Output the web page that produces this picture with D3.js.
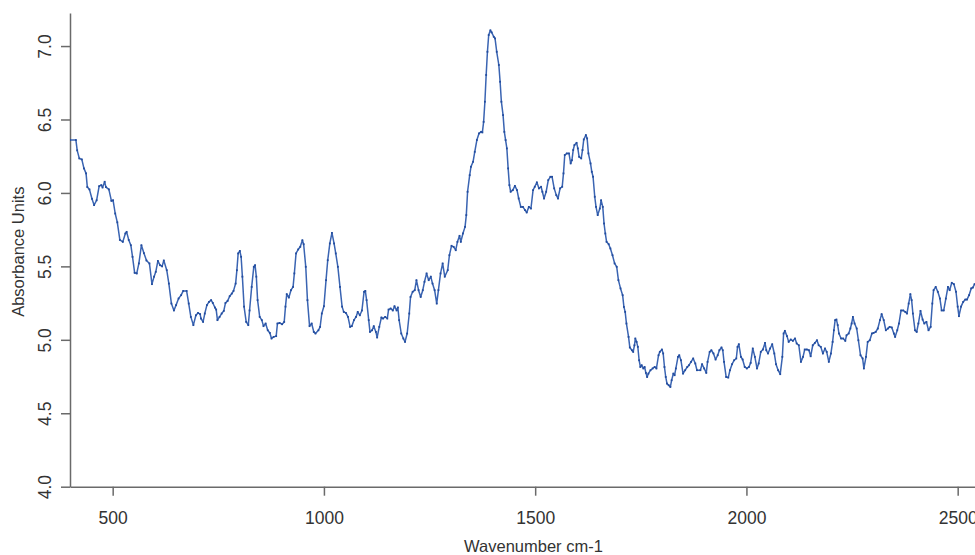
<!DOCTYPE html>
<html>
<head>
<meta charset="utf-8">
<script src="https://cdn.jsdelivr.net/npm/d3@7"></script>
<style>
  body { margin: 0; background: #fff; }
  text { font-family: "Liberation Sans", Arial, sans-serif; fill: #333; }
</style>
</head>
<body>
<div id="chart"></div>
<script>
// spectrum
var wavenumber = [
  399, 413, 416, 421, 427, 432, 437, 440, 445, 451, 456, 462, 468, 473, 476, 481, 484, 491, 497, 501,
  506, 511, 517, 524, 530, 533, 538, 543, 547, 552, 557, 562, 568, 574, 580, 587, 593, 598, 602, 607,
  612, 617, 621, 628, 633, 639, 645, 650, 656, 662, 667, 675, 680, 685, 691, 697, 702, 707, 709, 714,
  718, 723, 728, 733, 737, 742, 745, 748, 753, 758, 763, 767, 772, 777, 782, 786, 791, 794, 797, 801,
  804, 807, 811, 816, 821, 824, 829, 834, 837, 840, 843, 848, 853, 857, 862, 867, 872, 876, 881, 887,
  890, 895, 901, 906, 909, 912, 917, 922, 927, 930, 934, 939, 944, 949, 952, 957, 961, 966, 971, 976,
  980, 987, 991, 995, 1000, 1005, 1009, 1014, 1019, 1024, 1028, 1033, 1038, 1043, 1047, 1052, 1057, 1062, 1066, 1071,
  1076, 1080, 1085, 1090, 1095, 1098, 1101, 1106, 1109, 1114, 1118, 1123, 1126, 1131, 1136, 1140, 1145, 1150, 1153, 1158,
  1163, 1167, 1172, 1175, 1178, 1183, 1188, 1192, 1197, 1202, 1205, 1210, 1215, 1219, 1224, 1229, 1234, 1238, 1243, 1248,
  1253, 1257, 1262, 1267, 1271, 1276, 1281, 1286, 1293, 1297, 1302, 1307, 1312, 1316, 1321, 1324, 1329, 1334, 1337, 1340,
  1345, 1348, 1353, 1357, 1362, 1367, 1372, 1375, 1378, 1381, 1384, 1387, 1390, 1394, 1397, 1402, 1405, 1409, 1414, 1417,
  1420, 1424, 1427, 1430, 1433, 1436, 1439, 1442, 1447, 1452, 1457, 1461, 1466, 1471, 1476, 1480, 1485, 1490, 1495, 1499,
  1504, 1509, 1514, 1517, 1521, 1526, 1531, 1536, 1540, 1545, 1550, 1554, 1559, 1564, 1567, 1570, 1575, 1580, 1584, 1587,
  1590, 1593, 1598, 1601, 1604, 1609, 1612, 1615, 1620, 1623, 1626, 1631, 1634, 1637, 1641, 1644, 1648, 1653, 1656, 1660,
  1663, 1666, 1669, 1674, 1678, 1683, 1688, 1693, 1697, 1702, 1707, 1710, 1713, 1716, 1721, 1724, 1729, 1732, 1735, 1737,
  1740, 1743, 1746, 1749, 1752, 1756, 1759, 1762, 1765, 1768, 1773, 1778, 1783, 1787, 1792, 1795, 1800, 1803, 1806, 1809,
  1812, 1816, 1820, 1823, 1827, 1830, 1833, 1838, 1841, 1845, 1850, 1855, 1860, 1864, 1869, 1874, 1879, 1883, 1891, 1895,
  1900, 1905, 1908, 1913, 1917, 1922, 1927, 1932, 1936, 1941, 1944, 1947, 1952, 1957, 1961, 1966, 1971, 1976, 1979, 1982,
  1987, 1991, 1996, 2001, 2006, 2010, 2015, 2020, 2025, 2029, 2034, 2039, 2044, 2047, 2051, 2056, 2061, 2066, 2070, 2075,
  2080, 2085, 2088, 2091, 2096, 2100, 2105, 2110, 2115, 2119, 2124, 2129, 2134, 2138, 2143, 2148, 2152, 2157, 2162, 2167,
  2171, 2176, 2181, 2186, 2190, 2195, 2200, 2204, 2207, 2210, 2213, 2216, 2219, 2224, 2229, 2234, 2237, 2242, 2246, 2249,
  2252, 2256, 2261, 2265, 2270, 2275, 2278, 2283, 2287, 2292, 2297, 2301, 2306, 2311, 2316, 2320, 2325, 2330, 2335, 2339,
  2344, 2349, 2352, 2357, 2361, 2366, 2371, 2376, 2380, 2384, 2388, 2391, 2394, 2399, 2403, 2407, 2412, 2417, 2421, 2426,
  2431, 2436, 2440, 2443, 2448, 2453, 2458, 2462, 2467, 2472, 2477, 2481, 2486, 2491, 2496, 2500, 2503, 2508, 2513, 2518,
  2522, 2527, 2532, 2536, 2540, 2545
];
var absorbance = [
  6.36, 6.36, 6.29, 6.235, 6.228, 6.167, 6.133, 6.04, 6.024, 5.96, 5.917, 5.95, 6.046, 6.053, 6.037, 6.076, 6.04, 6.024, 5.946, 5.95,
  5.86, 5.80, 5.68, 5.667, 5.724, 5.735, 5.68, 5.644, 5.565, 5.456, 5.452, 5.52, 5.644, 5.59, 5.54, 5.52, 5.379, 5.43, 5.463, 5.537,
  5.508, 5.50, 5.54, 5.474, 5.383, 5.247, 5.20, 5.236, 5.281, 5.304, 5.333, 5.333, 5.247, 5.156, 5.10, 5.167, 5.183, 5.175, 5.145, 5.122,
  5.179, 5.236, 5.258, 5.27, 5.251, 5.22, 5.206, 5.134, 5.156, 5.179, 5.197, 5.251, 5.265, 5.297, 5.315, 5.333, 5.383, 5.474, 5.588, 5.605,
  5.565, 5.43, 5.226, 5.122, 5.10, 5.20, 5.36, 5.497, 5.508, 5.43, 5.27, 5.156, 5.134, 5.093, 5.111, 5.065, 5.047, 5.009, 5.02, 5.025,
  5.111, 5.115, 5.106, 5.122, 5.226, 5.311, 5.288, 5.338, 5.36, 5.452, 5.588, 5.615, 5.633, 5.678, 5.651, 5.497, 5.27, 5.093, 5.111, 5.054,
  5.043, 5.065, 5.088, 5.179, 5.229, 5.406, 5.542, 5.656, 5.728, 5.656, 5.588, 5.497, 5.36, 5.226, 5.19, 5.183, 5.156, 5.088, 5.093, 5.134,
  5.156, 5.19, 5.167, 5.20, 5.327, 5.333, 5.27, 5.134, 5.054, 5.065, 5.093, 5.054, 5.016, 5.088, 5.152, 5.145, 5.156, 5.145, 5.206, 5.213,
  5.20, 5.229, 5.20, 5.22, 5.134, 5.043, 5.009, 4.986, 5.043, 5.179, 5.292, 5.327, 5.338, 5.406, 5.338, 5.292, 5.338, 5.395, 5.452, 5.406,
  5.43, 5.383, 5.338, 5.247, 5.338, 5.452, 5.52, 5.43, 5.474, 5.576, 5.64, 5.633, 5.61, 5.667, 5.708, 5.667, 5.724, 5.769, 5.849, 6.008,
  6.121, 6.178, 6.212, 6.28, 6.36, 6.405, 6.416, 6.412, 6.484, 6.621, 6.803, 6.961, 7.075, 7.107, 7.093, 7.063, 7.052, 6.961, 6.871, 6.757,
  6.621, 6.53, 6.416, 6.36, 6.303, 6.167, 6.053, 6.008, 6.019, 6.048, 6.019, 5.962, 5.905, 5.905, 5.883, 5.867, 5.905, 5.894, 6.019, 6.042,
  6.072, 6.031, 6.042, 6.008, 5.962, 6.008, 6.087, 6.11, 6.11, 6.031, 5.985, 5.962, 6.031, 6.042, 6.133, 6.258, 6.269, 6.269, 6.201, 6.223,
  6.292, 6.326, 6.341, 6.303, 6.246, 6.235, 6.292, 6.364, 6.394, 6.371, 6.269, 6.201, 6.144, 6.11, 5.974, 5.905, 5.849, 5.894, 5.95, 5.905,
  5.792, 5.724, 5.667, 5.651, 5.622, 5.576, 5.52, 5.497, 5.406, 5.35, 5.304, 5.224, 5.19, 5.111, 5.02, 4.948, 4.929, 4.918, 4.963, 5.009,
  4.986, 4.952, 4.861, 4.815, 4.827, 4.805, 4.815, 4.775, 4.747, 4.77, 4.793, 4.805, 4.815, 4.805, 4.895, 4.918, 4.934, 4.907, 4.815, 4.747,
  4.702, 4.691, 4.679, 4.725, 4.77, 4.759, 4.805, 4.884, 4.895, 4.861, 4.77, 4.793, 4.815, 4.827, 4.85, 4.873, 4.839, 4.793, 4.793, 4.834,
  4.805, 4.775, 4.85, 4.918, 4.929, 4.907, 4.866, 4.895, 4.929, 4.948, 4.929, 4.85, 4.747, 4.743, 4.793, 4.834, 4.861, 4.873, 4.952, 4.97,
  4.884, 4.866, 4.815, 4.805, 4.815, 4.843, 4.941, 4.884, 4.805, 4.839, 4.918, 4.934, 4.979, 4.929, 4.907, 4.941, 4.97, 4.907, 4.834, 4.793,
  4.766, 4.884, 5.043, 5.061, 5.025, 4.986, 5.002, 4.993, 5.009, 4.975, 4.963, 4.85, 4.884, 4.934, 4.934, 4.929, 4.888, 4.963, 4.979, 4.997,
  4.963, 4.952, 4.907, 4.941, 4.918, 4.85, 4.907, 4.986, 5.065, 5.134, 5.138, 5.10, 5.043, 5.009, 5.009, 4.993, 5.031, 5.043, 5.077, 5.111,
  5.156, 5.111, 5.077, 4.997, 4.895, 4.873, 4.805, 4.884, 4.986, 4.997, 5.043, 5.047, 5.054, 5.077, 5.134, 5.175, 5.134, 5.065, 5.077, 5.088,
  5.084, 5.043, 5.02, 5.065, 5.111, 5.20, 5.20, 5.19, 5.179, 5.247, 5.311, 5.27, 5.179, 5.065, 5.054, 5.111, 5.197, 5.138, 5.111, 5.122,
  5.065, 5.088, 5.247, 5.338, 5.36, 5.327, 5.281, 5.20, 5.20, 5.281, 5.36, 5.338, 5.388, 5.379, 5.327, 5.226, 5.161, 5.226, 5.258, 5.274,
  5.274, 5.304, 5.35, 5.356, 5.379, 5.38
];
var xTicks = [500, 1000, 1500, 2000, 2500];
var yTicks = [4.0, 4.5, 5.0, 5.5, 6.0, 6.5, 7.0];

var width = 975,
    height = 555;
var margin = { top: 13, right: 0, bottom: 68.3, left: 70 };

var svg = d3.select("#chart")
            .append("svg")
            .attr("width", width)
            .attr("height", height);

var x = d3.scaleLinear()
          .domain([399, 2541])
          .range([margin.left, width - margin.right]);

var y = d3.scaleLinear()
          .domain([4, 7.225])
          .range([height - margin.bottom, margin.top]);

var points = wavenumber.map(function (w, i) { return { w: w, a: absorbance[i] }; });

// axes
var xAxis = svg.append("g")
               .attr("transform", "translate(0," + (height - margin.bottom) + ")")
               .call(d3.axisBottom(x).tickValues(xTicks).tickSize(9).tickSizeOuter(0)
                       .tickFormat(d3.format("d")));

var yAxis = svg.append("g")
               .attr("transform", "translate(" + margin.left + ",0)")
               .call(d3.axisLeft(y).tickValues(yTicks).tickSize(9).tickSizeOuter(0)
                       .tickFormat(d3.format(".1f")));

[xAxis, yAxis].forEach(function (g) {
  g.selectAll(".domain, .tick line")
   .attr("stroke", "#6a6a6a")
   .attr("stroke-width", 1.5);
  g.selectAll(".tick text")
   .style("font-size", "17.5px")
   .attr("fill", "#333");
});

xAxis.selectAll(".tick text")
     .attr("y", 37.5)
     .attr("dy", 0);

yAxis.selectAll(".tick text")
     .attr("x", 0)
     .attr("dy", 0)
     .attr("text-anchor", "middle")
     .attr("transform", "translate(-19,0) rotate(-90)");

// spectrum
svg.append("clipPath").attr("id", "plotclip")
   .append("rect")
   .attr("x", margin.left).attr("y", 0)
   .attr("width", width - margin.left).attr("height", height - margin.bottom);

var plot = svg.append("g").attr("clip-path", "url(#plotclip)");

plot.append("path")
    .datum(points)
    .attr("fill", "none")
    .attr("stroke", "#3a64b2")
    .attr("stroke-width", 1.5)
    .attr("stroke-linejoin", "round")
    .attr("d", d3.line().x(function (d) { return x(d.w); }).y(function (d) { return y(d.a); }));

plot.selectAll("rect.pt")
    .data(points)
    .enter().append("rect")
    .attr("class", "pt")
    .attr("x", function (d) { return x(d.w) - 0.9; })
    .attr("y", function (d) { return y(d.a) - 0.9; })
    .attr("width", 1.8)
    .attr("height", 1.8)
    .attr("fill", "#224c9e");

// titles
svg.append("text")
   .attr("x", 533.5)
   .attr("y", 552)
   .attr("text-anchor", "middle")
   .style("font-size", "16.5px")
   .text("Wavenumber cm-1");

svg.append("text")
   .attr("transform", "translate(24," + y(5.6) + ") rotate(-90)")
   .attr("text-anchor", "middle")
   .style("font-size", "16.5px")
   .text("Absorbance Units");
</script>
</body>
</html>
